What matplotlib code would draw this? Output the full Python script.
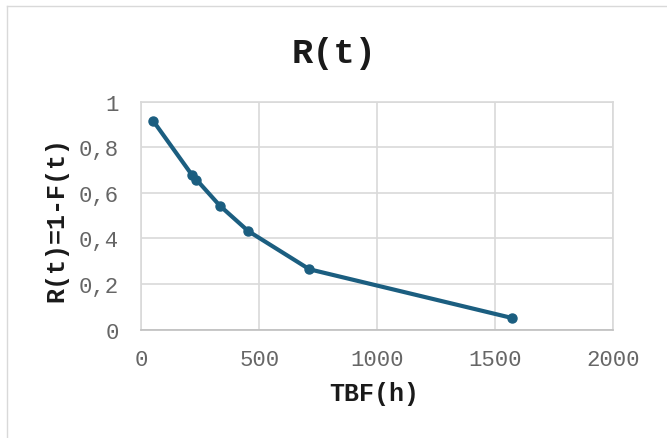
import matplotlib
matplotlib.use("Agg")
import matplotlib.pyplot as plt
from matplotlib.ticker import FuncFormatter, MultipleLocator
from matplotlib.lines import Line2D

tbf = [51, 214, 234, 333, 453, 713, 1574]
rel = [0.915, 0.680, 0.658, 0.544, 0.433, 0.265, 0.051]
title = "R(t)"
xlabel = "TBF(h)"
ylabel = "R(t)=1-F(t)"

plt.rcParams['font.family'] = ['Liberation Mono', 'DejaVu Sans Mono']

W, H = 667, 439
fig = plt.figure(figsize=(W/100, H/100), dpi=100)
# chart-area border (left and top only visible in the crop)
fig.lines.append(Line2D([6.5/W, 6.5/W], [0, 1 - 7/H], transform=fig.transFigure,
                        color='#D9D9D9', linewidth=1))
fig.lines.append(Line2D([6.5/W, 1], [1 - 7/H, 1 - 7/H], transform=fig.transFigure,
                        color='#D9D9D9', linewidth=1))

ax = fig.add_axes([141.3/W, 1 - 330.7/H, (612.8-141.3)/W, (330.7-102.7)/H])

line_color = '#1B5E80'
ax.plot(tbf, rel, color=line_color, linewidth=3, marker='o', markersize=6.5,
        zorder=3, clip_on=False)

ax.set_xlim(0, 2000)
ax.set_ylim(0, 1)
ax.xaxis.set_major_locator(MultipleLocator(500))
ax.yaxis.set_major_locator(MultipleLocator(0.2))

def yfmt(v, pos):
    if abs(v) < 1e-9:
        return "0"
    if abs(v - 1) < 1e-9:
        return "1"
    return f"{v:.1f}".replace('.', ',')

ax.yaxis.set_major_formatter(FuncFormatter(yfmt))
ax.xaxis.set_major_formatter(FuncFormatter(lambda v, p: f"{int(v)}"))

ax.grid(True, color='#D9D9D9', linewidth=1.2)
ax.set_axisbelow(True)
for s in ['top', 'right', 'left']:
    ax.spines[s].set_color('#D9D9D9')
    ax.spines[s].set_linewidth(1.2)
ax.spines['bottom'].set_color('#BFBFBF')
ax.spines['bottom'].set_linewidth(1.2)
ax.tick_params(length=0, labelsize=16, colors='#666666')
ax.tick_params(axis='y', pad=16)
ax.tick_params(axis='x', pad=14)

fig.text(334/W, 1 - 53/H, title, fontsize=25.5, fontweight='bold', color='#1A1A1A',
         ha='center', va='center')
fig.text(374.5/W, 1 - 394/H, xlabel, fontsize=18, fontweight='bold', color='#1A1A1A',
         ha='center', va='center')
fig.text(56/W, 1 - 220/H, ylabel, fontsize=18, fontweight='bold', color='#1A1A1A',
         ha='center', va='center', rotation=90)

fig.savefig("out.png", dpi=100)
